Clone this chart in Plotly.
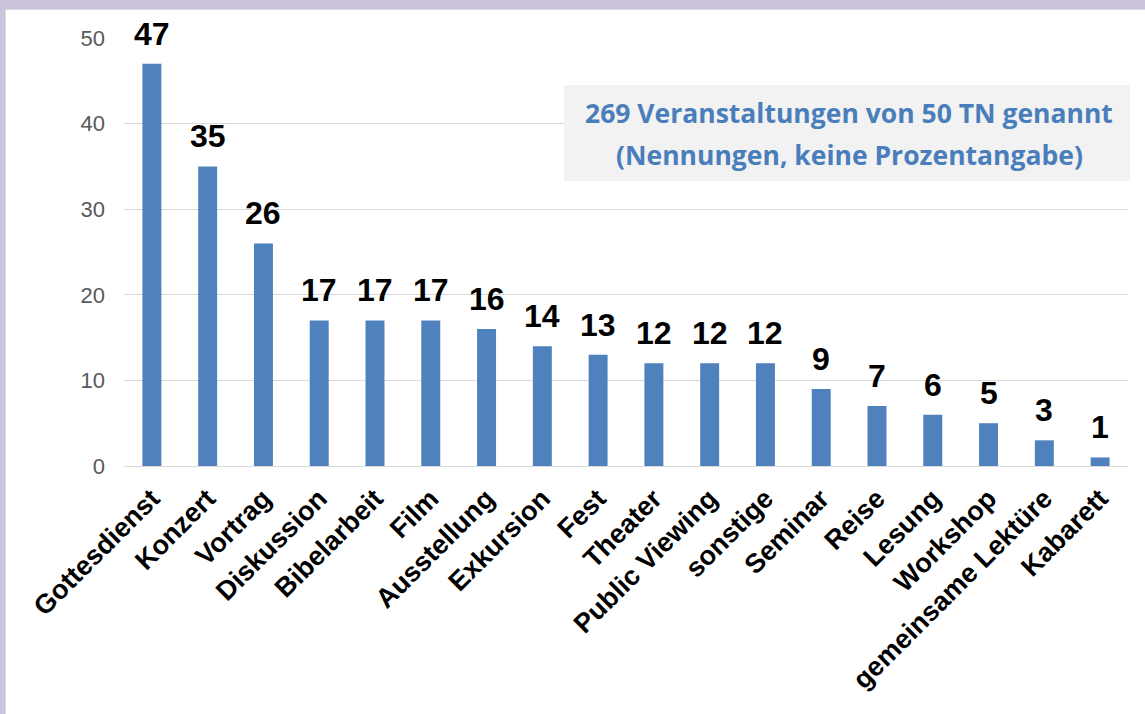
import plotly.graph_objects as go

categories = ["Gottesdienst", "Konzert", "Vortrag", "Diskussion", "Bibelarbeit", "Film",
              "Ausstellung", "Exkursion", "Fest", "Theater", "Public Viewing", "sonstige",
              "Seminar", "Reise", "Lesung", "Workshop", "gemeinsame Lektüre", "Kabarett"]
values = [47, 35, 26, 17, 17, 17, 16, 14, 13, 12, 12, 12, 9, 7, 6, 5, 3, 1]
y_ticks = [0, 10, 20, 30, 40, 50]
note_lines = ["269 Veranstaltungen von 50 TN genannt", "(Nennungen, keine Prozentangabe)"]

W, H = 1145, 714
L, R, T, B = 124, 17, 38, 248
pw, ph = W - L - R, H - T - B

def px_x(p):
    return (p - L) / pw

def px_y(p):
    return (H - B - p) / ph

fig = go.Figure()
fig.add_trace(go.Bar(
    x=categories, y=values,
    marker=dict(color="#4F81BD", line=dict(width=0)),
    width=0.34, hoverinfo="skip",
))

for c, v in zip(categories, values):
    fig.add_annotation(x=c, y=v, text="<b>" + str(v) + "</b>", showarrow=False, yanchor="bottom",
                       yshift=10, font=dict(family="Arial", size=32, color="black"))

# note box
fig.add_shape(type="rect", xref="paper", yref="paper",
              x0=px_x(564), x1=px_x(1130), y0=px_y(181), y1=px_y(85),
              fillcolor="#F2F2F2", line=dict(width=0))
for line, yc in zip(note_lines, [113, 155]):
    fig.add_annotation(
        xref="paper", yref="paper", x=px_x(849), y=px_y(yc), xanchor="center", yanchor="middle",
        text="<b>" + line + "</b>", showarrow=False, align="center",
        font=dict(family="Open Sans", size=26.5, color="#4A7EBB"),
    )

fig.add_shape(type="rect", xref="paper", yref="paper", layer="below",
              x0=px_x(5.5), x1=px_x(1160), y0=px_y(9.5), y1=px_y(730),
              fillcolor="white", line=dict(color="#D9D9D9", width=1))

fig.update_layout(
    width=W, height=H,
    margin=dict(l=L, r=R, t=T, b=B, autoexpand=False),
    paper_bgcolor="#CCC4DD", plot_bgcolor="white",
    showlegend=False, bargap=0.66,
    font=dict(family="Arial"),
)
fig.update_xaxes(tickangle=-45, tickfont=dict(family="Arial", size=27, color="black", weight="bold"),
                 showgrid=False, showline=True, linecolor="#D9D9D9", linewidth=1,
                 ticks="", automargin=False, ticklabelstandoff=5)
fig.update_yaxes(range=[0, 50], tickvals=y_ticks, showgrid=True, gridcolor="#D9D9D9",
                 gridwidth=1, zeroline=False, showline=False,
                 tickfont=dict(family="Arial", size=22, color="#595959"),
                 ticklabelstandoff=18, automargin=False)

fig.write_html("out.html", config={"displayModeBar": False},
               post_script="document.body.style.margin='0px';document.body.style.padding='0px';")
